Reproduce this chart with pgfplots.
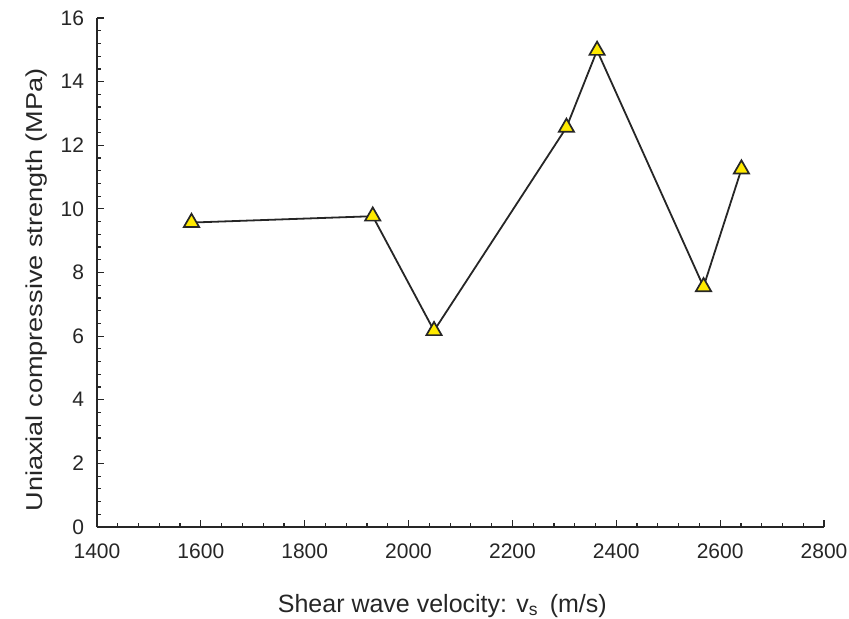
\documentclass[border=0pt]{standalone}
\usepackage{fontspec}
\setmainfont{Liberation Sans}
\newfontfamily\ylabfont[FakeStretch=1.18]{Liberation Sans}
\usepackage{pgfplots}
\pgfplotsset{compat=1.18}
\usetikzlibrary{calc}
\definecolor{markfill}{HTML}{FFEA00}

\begin{document}
\begin{tikzpicture}
\begin{axis}[
  scale only axis,
  width=363.5pt, height=254.5pt,
  xmin=1400, xmax=2800,
  ymin=0, ymax=16,
  xtick={1400,1600,...,2800},
  ytick={0,2,...,16},
  minor x tick num=4,
  minor y tick num=4,
  axis lines=left,
  axis line style={-, line width=0.8pt, black!85},
  tick align=inside,
  major tick length=3.5pt,
  minor tick length=1.8pt,
  tick style={line width=0.6pt, black!85},
  /pgf/number format/assume math mode=true,
  /pgf/number format/1000 sep={},
  tick label style={font=\fontsize{10.5}{12}\selectfont, text=black!85},
  xticklabel style={yshift=-5pt},
  yticklabel style={xshift=-3pt},
  xlabel={Shear wave velocity: v\textsubscript{s}\, (m/s)},
  ylabel={Uniaxial compressive strength (MPa)},
  xlabel style={font=\fontsize{12.5}{14}\selectfont, text=black!85,
    at={(axis description cs:0.475,0)}, anchor=north, yshift=-30pt},
  ylabel style={font=\ylabfont\fontsize{11.5}{14}\selectfont, text=black!85,
    at={(axis description cs:0,0.466)}, anchor=south, yshift=21.5pt},
]
\addplot[line width=0.9pt, black!85, mark=triangle*, mark size=4.4pt,
  mark options={fill=markfill, draw=black!85, line width=0.85pt}] coordinates {
  (1582, 9.57) (1931, 9.77) (2049, 6.17) (2304, 12.56)
  (2363, 14.98) (2568, 7.55) (2641, 11.25)
};
\coordinate (sw) at (rel axis cs:0,0);
\coordinate (ne) at (rel axis cs:1,1);
\end{axis}
\pgfresetboundingbox
\path ($(sw)+(-48.5pt,-45.5pt)$) rectangle ($(ne)+(12.5pt,9pt)$);
\end{tikzpicture}
\end{document}
